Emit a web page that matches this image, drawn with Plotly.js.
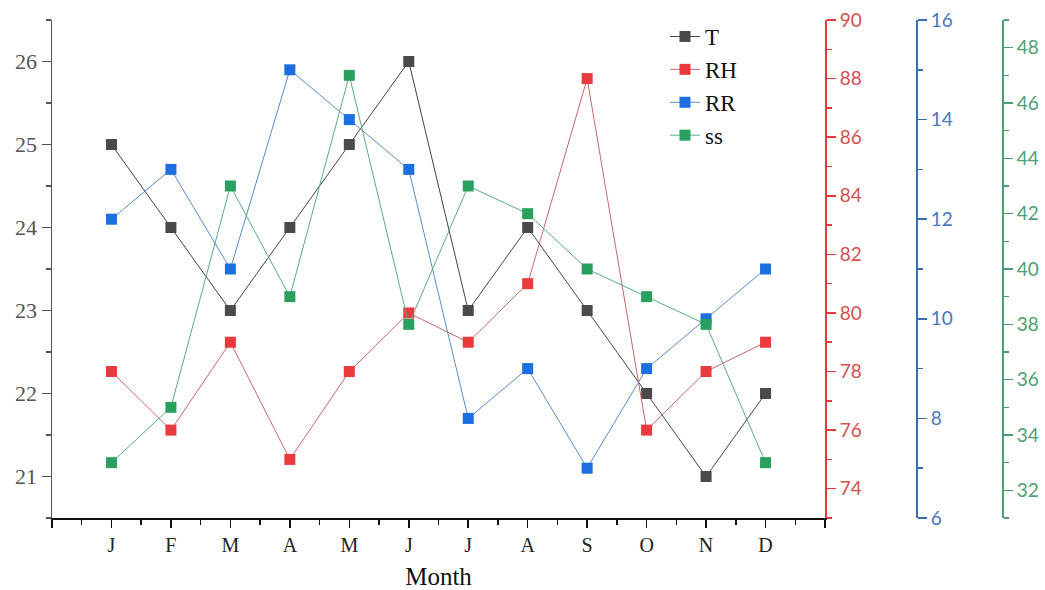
<!DOCTYPE html>
<html>
<head>
<meta charset="utf-8">
<script src="https://cdn.plot.ly/plotly-3.0.1.min.js"></script>
<style>html,body{margin:0;padding:0;background:#fff;}#chart{width:1045px;height:590px;}</style>
</head>
<body>
<div id="chart"></div>
<script>
var months = ['J','F','M','A','M','J','J','A','S','O','N','D'];
var monthIdx = [1,2,3,4,5,6,7,8,9,10,11,12];
var T  = [25,24,23,24,25,26,23,24,23,22,21,22];
var RH = [78,76,79,75,78,80,79,81,88,76,78,79];
var RR = [12,13,11,15,14,13,8,9,7,9,10,11];
var SS = [33,35,43,39,47,38,43,42,40,39,38,33];

var tickVals = [0].concat(monthIdx).concat([13]);
var tickText = [''].concat(months).concat(['']);

function tr(name, y, yaxis, mcol, lcol) {
  return {x: monthIdx, y: y, name: name, yaxis: yaxis, type: 'scatter', mode: 'lines+markers',
    line: {color: lcol, width: 1}, marker: {symbol: 'square', size: 11, color: mcol}};
}
var data = [
  tr('T', T, 'y', '#4a4a4a', '#444'),
  tr('RH', RH, 'y2', '#ea3a3e', '#c86a6a'),
  tr('RR', RR, 'y3', '#1b6fe0', '#5a8cc8'),
  tr('ss', SS, 'y4', '#2aa05e', '#5aad82')
];
var serif = '"Liberation Serif", "Times New Roman", serif';
var sans = 'Lato, "Open Sans", sans-serif';
var dom = 773/973;
var layout = {
  width: 1045, height: 590,
  margin: {l: 52, r: 20, t: 20, b: 72},
  paper_bgcolor: '#fff', plot_bgcolor: '#fff',
  showlegend: true,
  legend: {x: 0.63, y: 1.01, xanchor: 'left', yanchor: 'top', bgcolor: 'rgba(0,0,0,0)',
    font: {family: serif, size: 23, color: '#111'}, tracegroupgap: 0},
  xaxis: {domain: [0, dom], range: [0, 13], tickmode: 'array', tickvals: tickVals, ticktext: tickText,
    showgrid: false, zeroline: false, showline: true, linecolor: '#111', linewidth: 1.5,
    ticks: 'outside', ticklen: 8, tickwidth: 1.5, tickcolor: '#111',
    minor: {dtick: 0.5, tick0: 0, ticks: 'outside', ticklen: 5, tickwidth: 1.5, tickcolor: '#111'},
    tickfont: {family: serif, size: 20, color: '#222'},
    title: {text: 'Month', font: {family: serif, size: 25, color: '#111'}, standoff: 18}},
  yaxis: {range: [20.5, 26.5], dtick: 1, tick0: 0, showgrid: false, zeroline: false, showline: true,
    linecolor: '#555', linewidth: 1.5, ticks: 'outside', ticklen: 9, tickwidth: 1.5, tickcolor: '#555',
    minor: {dtick: 0.5, ticks: 'outside', ticklen: 5, tickwidth: 1.5, tickcolor: '#555'},
    tickfont: {family: serif, size: 22, color: '#555'}},
  yaxis2: {overlaying: 'y', anchor: 'x', side: 'right', range: [73, 90], dtick: 2, tick0: 0,
    showgrid: false, zeroline: false, showline: true, linecolor: '#e23a3a', linewidth: 2,
    ticks: 'outside', ticklen: 9, tickwidth: 1.5, tickcolor: '#e23a3a',
    minor: {dtick: 1, ticks: 'outside', ticklen: 5, tickwidth: 1.5, tickcolor: '#e23a3a'},
    tickfont: {family: sans, size: 19, color: '#d55050'}},
  yaxis3: {overlaying: 'y', anchor: 'free', side: 'right', position: (917-52)/973, range: [6, 16], dtick: 2, tick0: 0,
    showgrid: false, zeroline: false, showline: true, linecolor: '#3a6db0', linewidth: 2,
    ticks: 'outside', ticklen: 9, tickwidth: 1.5, tickcolor: '#3a6db0',
    minor: {dtick: 1, ticks: 'outside', ticklen: 5, tickwidth: 1.5, tickcolor: '#3a6db0'},
    tickfont: {family: sans, size: 19, color: '#4a78be'}},
  yaxis4: {overlaying: 'y', anchor: 'free', side: 'right', position: (1003-52)/973, range: [31, 49], dtick: 2, tick0: 0,
    showgrid: false, zeroline: false, showline: true, linecolor: '#4a9e70', linewidth: 2,
    ticks: 'outside', ticklen: 9, tickwidth: 1.5, tickcolor: '#4a9e70',
    minor: {dtick: 1, ticks: 'outside', ticklen: 5, tickwidth: 1.5, tickcolor: '#4a9e70'},
    tickfont: {family: sans, size: 19, color: '#4fa074'}}
};
Plotly.newPlot('chart', data, layout, {displayModeBar: false, staticPlot: true});
</script>
</body>
</html>
